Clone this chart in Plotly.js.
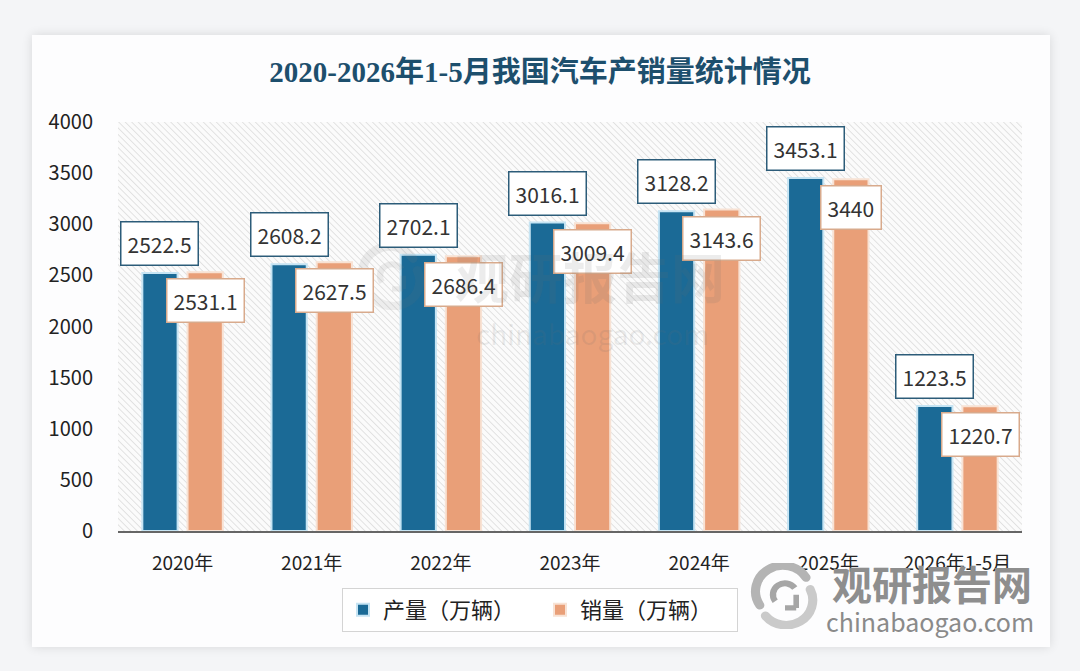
<!DOCTYPE html>
<html>
<head>
<meta charset="utf-8">
<script src="https://cdn.plot.ly/plotly-3.0.1.min.js"></script>
<style>
  html, body { margin:0; padding:0; background:#f4f5f7; }
  #wrap { position:relative; width:1080px; height:671px; overflow:hidden; background:#f4f5f7; }
  #card { position:absolute; left:32px; top:35px; width:1018px; height:612px; background:#fdfdfe;
          box-shadow:0 0 10px rgba(0,0,0,0.12); }
  #chart { position:absolute; left:0; top:0; width:1080px; height:671px; }
</style>
</head>
<body>
<div id="wrap">
  <div id="card"></div>
  <div id="chart"></div>
</div>
<script>
const categories = ['2020年','2021年','2022年','2023年','2024年','2025年','2026年1-5月'];
const production = [2522.5, 2608.2, 2702.1, 3016.1, 3128.2, 3453.1, 1223.5];
const sales = [2531.1, 2627.5, 2686.4, 3009.4, 3143.6, 3440, 1220.7];
const seriesNames = ['产量（万辆）', '销量（万辆）'];
const yTicks = [0, 500, 1000, 1500, 2000, 2500, 3000, 3500, 4000];

const BLUE = '#1b6a96';
const ORANGE = '#e99f78';
const FONT = 'Noto Sans CJK SC, Noto Sans, sans-serif';

const W = 1080, H = 671;
const L = 118, R = 1022, T = 122, B = 531;
const px2x = p => (p - L) / (R - L);
const px2y = p => (B - p) / (B - T);

// hatch background for plot area
const pw = R - L, ph = B - T;
const hatchSvg = `<svg xmlns="http://www.w3.org/2000/svg" width="${pw}" height="${ph}" viewBox="0 0 ${pw} ${ph}" preserveAspectRatio="none">
<defs><pattern id="p" width="4.6" height="4.6" patternUnits="userSpaceOnUse" patternTransform="rotate(-45)">
<rect width="4.6" height="4.6" fill="#fbfbfb"/>
<line x1="0" y1="0" x2="0" y2="4.6" stroke="#cfcfcf" stroke-width="1.1"/></pattern></defs>
<rect width="${pw}" height="${ph}" fill="url(#p)"/></svg>`;

function logoSvg(c1, c2, c3) {
  return `<svg xmlns="http://www.w3.org/2000/svg" width="100" height="100" viewBox="0 0 100 100">
<path d="M14 64 A38 38 0 0 1 80 22" fill="none" stroke="${c1}" stroke-width="13" stroke-linecap="round"/>
<path d="M86 40 A38 38 0 0 1 22 80" fill="none" stroke="${c2}" stroke-width="13" stroke-linecap="round"/>
<path d="M36 58 A16 16 0 0 1 64 38" fill="none" stroke="${c3}" stroke-width="9"/>
<path d="M66 48 L66 68 M50 68 L66 68" fill="none" stroke="${c3}" stroke-width="8"/>
</svg>`;
}

const traces = [
  { type:'bar', name:seriesNames[0], x:categories, y:production,
    marker:{ color:BLUE, line:{ color:'#c6e4f3', width:2 } }, hoverinfo:'skip' },
  { type:'bar', name:seriesNames[1], x:categories, y:sales,
    marker:{ color:ORANGE, line:{ color:'#f8e2d4', width:2 } }, hoverinfo:'skip' }
];

const slot = 22.6;
const annotations = [];
categories.forEach((c, i) => {
  annotations.push({
    x:c, y:production[i], xref:'x', yref:'y', xshift:-slot, yshift:7,
    xanchor:'center', yanchor:'bottom', showarrow:false,
    text:String(production[i]), font:{ family:FONT, size:21, color:'#333' },
    bgcolor:'#ffffff', bordercolor:'#2c5c79', borderwidth:1.5, borderpad:6
  });
  annotations.push({
    x:c, y:sales[i], xref:'x', yref:'y', xshift:slot, yshift:-6,
    xanchor:'center', yanchor:'top', showarrow:false,
    text:String(sales[i]), font:{ family:FONT, size:21, color:'#333' },
    bgcolor:'#ffffff', bordercolor:'#d8aa8c', borderwidth:1.5, borderpad:6
  });
});

// watermarks
const wm = (x, y, text, size, color) => ({ xref:'paper', yref:'paper', x:px2x(x), y:px2y(y),
  xanchor:'center', yanchor:'middle', showarrow:false, text:text, font:{ family:FONT, size:size, color:color } });
annotations.push(wm(590, 275, '<b>观研报告网</b>', 54, 'rgba(110,110,110,0.13)'));
annotations.push(wm(592, 333, 'chinabaogao.com', 28, 'rgba(110,110,110,0.13)'));
annotations.push(wm(932, 583, '<b>观研报告网</b>', 40, '#8e8e8e'));
annotations.push(wm(930, 621, 'chinabaogao.com', 25, '#8a8a8a'));

const layout = {
  width:W, height:H,
  paper_bgcolor:'rgba(0,0,0,0)', plot_bgcolor:'rgba(0,0,0,0)',
  margin:{ l:L, r:W-R, t:T, b:H-B, pad:0 },
  title:{ text:'<b>2020-2026年1-5月我国汽车产销量统计情况</b>', x:0.5, xref:'container',
    y:1-72/H, yref:'container', xanchor:'center', yanchor:'middle',
    font:{ family:'Liberation Serif, Noto Sans CJK SC, serif', size:29, color:'#1d4f6d' } },
  barmode:'group', bargap:0.30, bargroupgap:0.22,
  xaxis:{ type:'category', showgrid:false, zeroline:false, showline:true, linecolor:'#666', linewidth:1.5,
    ticks:'outside', ticklen:15, tickcolor:'rgba(0,0,0,0)',
    tickfont:{ family:FONT, size:19, color:'#222' } },
  yaxis:{ range:[0,4000], tickvals:yTicks, ticktext:yTicks.map(String), showgrid:false, zeroline:false, showline:false,
    ticks:'outside', ticklen:20, tickcolor:'rgba(0,0,0,0)',
    tickfont:{ family:FONT, size:20, color:'#222' } },
  legend:{ orientation:'h', x:px2x(540), y:px2y(610), xanchor:'center', yanchor:'middle',
    bgcolor:'#ffffff', bordercolor:'#d4d4d4', borderwidth:1,
    font:{ family:FONT, size:22, color:'#222' }, entrywidth:152, itemwidth:30 },
  annotations:annotations,
  images:[
    { source:'data:image/svg+xml;charset=utf-8,' + encodeURIComponent(hatchSvg),
      xref:'paper', yref:'paper', x:0, y:1, sizex:1, sizey:1, xanchor:'left', yanchor:'top',
      sizing:'stretch', layer:'below' },
    { source:'data:image/svg+xml;charset=utf-8,' + encodeURIComponent(logoSvg('rgba(120,120,120,0.13)','rgba(120,120,120,0.10)','rgba(120,120,120,0.13)')),
      xref:'paper', yref:'paper', x:px2x(392), y:px2y(277), sizex:70/(R-L), sizey:66/(B-T),
      xanchor:'center', yanchor:'middle', sizing:'stretch', layer:'above' },
    { source:'data:image/svg+xml;charset=utf-8,' + encodeURIComponent(logoSvg('#b4b4b4','#cacaca','#a6a6a6')),
      xref:'paper', yref:'paper', x:px2x(785), y:px2y(596), sizex:70/(R-L), sizey:66/(B-T),
      xanchor:'center', yanchor:'middle', sizing:'stretch', layer:'above' }
  ],
  showlegend:true
};

Plotly.newPlot('chart', traces, layout, { displayModeBar:false, staticPlot:true });
</script>
</body>
</html>
